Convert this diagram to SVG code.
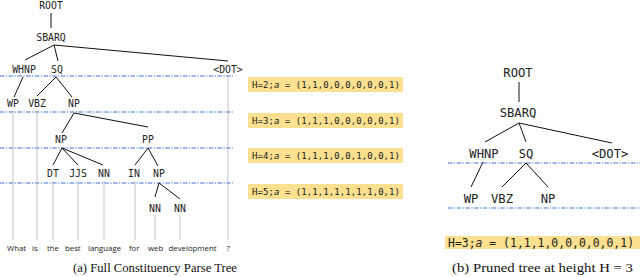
<svg xmlns="http://www.w3.org/2000/svg" width="640" height="277" viewBox="0 0 640 277">
<style>
.t{font-family:"DejaVu Sans Mono","Liberation Mono",monospace;font-size:9.8px;fill:#222;text-anchor:middle}
.tr{font-family:"DejaVu Sans Mono","Liberation Mono",monospace;font-size:12.2px;fill:#222;text-anchor:middle}
.w{font-family:"Open Sans","Noto Sans",sans-serif;font-size:7.8px;fill:#222}
.cap{font-family:"Liberation Serif",serif;font-size:12.6px;fill:#111;text-anchor:middle}
.e{stroke:#111;stroke-width:1;fill:none}
.d{stroke:#3f72d6;stroke-width:1;stroke-dasharray:4.5 1.5 1.2 1.5;fill:none}
.v{stroke:#aaa;stroke-width:0.7;fill:none}
.hl{fill:#fbe08f}
.h{font-family:"DejaVu Sans Mono","Liberation Mono",monospace;font-size:9px;fill:#222}
.hr{font-family:"DejaVu Sans Mono","Liberation Mono",monospace;font-size:11.4px;fill:#222}
</style>
<rect width="640" height="277" fill="#fff"/>
<g id="levels">
<line class="d" x1="0" y1="76" x2="233" y2="76"/>
<line class="d" x1="0" y1="112" x2="233" y2="112"/>
<line class="d" x1="0" y1="148" x2="233" y2="148"/>
<line class="d" x1="0" y1="183" x2="233" y2="183"/>
<line class="d" x1="448" y1="163" x2="640" y2="163"/>
<line class="d" x1="448" y1="208" x2="640" y2="208"/>
</g>
<g id="connectors">
<line class="e" x1="51" y1="13" x2="51" y2="28"/>
<line class="e" x1="54" y1="45" x2="25" y2="60"/>
<line class="e" x1="54" y1="45" x2="58" y2="61"/>
<line class="e" x1="54" y1="45" x2="228" y2="61"/>
<line class="e" x1="23" y1="77" x2="14" y2="97"/>
<line class="e" x1="56" y1="77" x2="37" y2="96"/>
<line class="e" x1="56" y1="77" x2="72" y2="97"/>
<line class="e" x1="74" y1="113" x2="62" y2="133"/>
<line class="e" x1="74" y1="113" x2="148" y2="127"/>
<line class="e" x1="62" y1="148" x2="53" y2="165"/>
<line class="e" x1="62" y1="148" x2="78" y2="165"/>
<line class="e" x1="62" y1="148" x2="103" y2="165"/>
<line class="e" x1="148" y1="148" x2="135" y2="165"/>
<line class="e" x1="148" y1="148" x2="158" y2="166"/>
<line class="e" x1="159" y1="183" x2="155" y2="197"/>
<line class="e" x1="159" y1="183" x2="180" y2="199"/>
<line class="v" x1="13" y1="111" x2="13" y2="240"/>
<line class="v" x1="37" y1="111" x2="37" y2="240"/>
<line class="v" x1="53" y1="181" x2="53" y2="240"/>
<line class="v" x1="78" y1="181" x2="78" y2="240"/>
<line class="v" x1="104" y1="181" x2="104" y2="240"/>
<line class="v" x1="135" y1="181" x2="135" y2="240"/>
<line class="v" x1="155" y1="215" x2="155" y2="240"/>
<line class="v" x1="180" y1="215" x2="180" y2="240"/>
<line class="v" x1="228" y1="76" x2="228" y2="240"/>
<line class="e" x1="519" y1="82" x2="519" y2="102"/>
<line class="e" x1="519" y1="123" x2="485" y2="142"/>
<line class="e" x1="519" y1="123" x2="526" y2="142"/>
<line class="e" x1="519" y1="123" x2="612" y2="143"/>
<line class="e" x1="483" y1="162" x2="471" y2="187"/>
<line class="e" x1="526" y1="163" x2="502" y2="187"/>
<line class="e" x1="526" y1="163" x2="548" y2="187"/>
</g>
<g id="full-tree">
<g id="n-root"><text class="t" x="51" y="9">ROOT</text></g>
<g id="n-sbarq"><text class="t" x="51" y="41">SBARQ</text></g>
<g id="n-whnp"><text class="t" x="24" y="72.5">WHNP</text></g>
<g id="n-sq"><text class="t" x="57" y="72.5">SQ</text></g>
<g id="n-dot"><text class="t" x="228" y="72.5">&lt;DOT&gt;</text></g>
<g id="n-wp"><text class="t" x="13" y="107">WP</text></g>
<g id="n-vbz"><text class="t" x="37" y="107">VBZ</text></g>
<g id="n-np1"><text class="t" x="74" y="107">NP</text></g>
<g id="n-np2"><text class="t" x="61" y="143">NP</text></g>
<g id="n-pp"><text class="t" x="148" y="143">PP</text></g>
<g id="n-dt"><text class="t" x="53" y="177">DT</text></g>
<g id="n-jjs"><text class="t" x="78" y="177">JJS</text></g>
<g id="n-nn1"><text class="t" x="104" y="177">NN</text></g>
<g id="n-in"><text class="t" x="134" y="177">IN</text></g>
<g id="n-np3"><text class="t" x="159" y="177">NP</text></g>
<g id="n-nn2"><text class="t" x="155" y="212">NN</text></g>
<g id="n-nn3"><text class="t" x="180" y="212">NN</text></g>
</g>
<g id="words">
<text class="w" x="7" y="250.5">What</text>
<text class="w" x="32" y="250.5">is</text>
<text class="w" x="47" y="250.5">the</text>
<text class="w" x="65" y="250.5">best</text>
<text class="w" x="88" y="250.5">language</text>
<text class="w" x="129" y="250.5">for</text>
<text class="w" x="148" y="250.5">web</text>
<text class="w" x="168.5" y="250.5">development</text>
<text class="w" x="226.5" y="250.5">?</text>
</g>
<g id="labels-a">
<rect class="hl" x="248" y="77" width="155" height="15"/>
<text class="h" x="252" y="87.8" textLength="148">H=2;<tspan font-style="italic">a</tspan> = (1,1,0,0,0,0,0,0,1)</text>
<rect class="hl" x="248" y="113" width="155" height="15"/>
<text class="h" x="252" y="123.8" textLength="148">H=3;<tspan font-style="italic">a</tspan> = (1,1,1,0,0,0,0,0,1)</text>
<rect class="hl" x="248" y="148" width="155" height="15"/>
<text class="h" x="252" y="158.8" textLength="148">H=4;<tspan font-style="italic">a</tspan> = (1,1,1,0,0,1,0,0,1)</text>
<rect class="hl" x="248" y="184" width="155" height="15"/>
<text class="h" x="252" y="194.8" textLength="148">H=5;<tspan font-style="italic">a</tspan> = (1,1,1,1,1,1,1,0,1)</text>
</g>
<g id="pruned-tree">
<g id="p-root"><text class="tr" x="518" y="77">ROOT</text></g>
<g id="p-sbarq"><text class="tr" x="518" y="117">SBARQ</text></g>
<g id="p-whnp"><text class="tr" x="484" y="158">WHNP</text></g>
<g id="p-sq"><text class="tr" x="526" y="158">SQ</text></g>
<g id="p-dot"><text class="tr" x="610" y="158">&lt;DOT&gt;</text></g>
<g id="p-wp"><text class="tr" x="471" y="203">WP</text></g>
<g id="p-vbz"><text class="tr" x="502" y="203">VBZ</text></g>
<g id="p-np"><text class="tr" x="548" y="203">NP</text></g>
</g>
<g id="label-b">
<rect class="hl" x="445" y="236" width="195" height="13"/>
<text class="hr" x="448" y="246.5" textLength="186">H=3;<tspan font-style="italic">a</tspan> = (1,1,1,0,0,0,0,0,1)</text>
</g>
<g id="captions">
<text class="cap" x="155" y="272" textLength="164" lengthAdjust="spacingAndGlyphs">(a) Full Constituency Parse Tree</text>
<text class="cap" x="542.5" y="272" font-size="14.2" textLength="181" lengthAdjust="spacingAndGlyphs">(b) Pruned tree at height H = 3</text>
</g>
</svg>
